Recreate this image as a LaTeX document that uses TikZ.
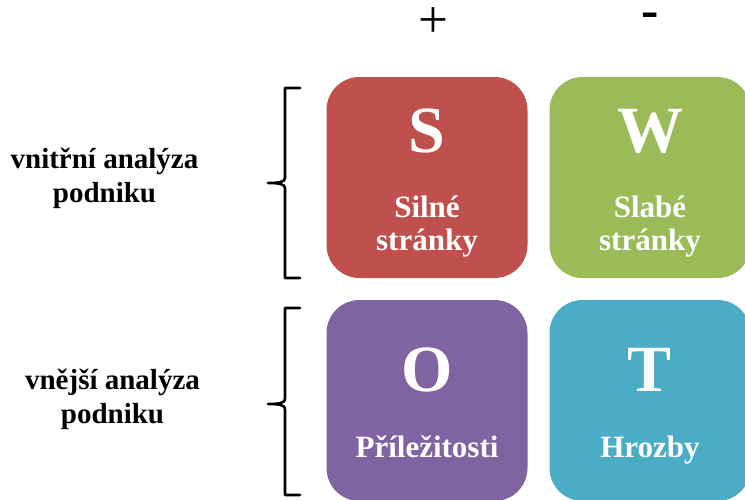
\documentclass[tikz,border=0pt]{standalone}
\usepackage{fontspec}
\setmainfont{Liberation Serif}
\definecolor{swotred}{RGB}{192,80,77}
\definecolor{swotgreen}{RGB}{155,187,89}
\definecolor{swotpurple}{RGB}{128,100,162}
\definecolor{swotblue}{RGB}{75,172,198}
\usepackage{tikz}
\tikzset{
  quadrant/.style={rectangle, rounded corners=33pt, fill=#1, draw=none,
                   minimum width=201pt, minimum height=201pt, inner sep=0pt},
  bigletter/.style={text=white, font=\fontsize{66}{70}\selectfont\bfseries, inner sep=0pt},
  quadlabel/.style={text=white, align=center, font=\fontsize{31}{33}\selectfont\bfseries, inner sep=0pt},
  sidelabel/.style={align=center, font=\fontsize{29}{34}\selectfont\bfseries, inner sep=0pt},
  sign/.style={inner sep=0pt, anchor=base, text height=0.55em, text depth=0pt},
  bracket/.style={line width=2.6pt, line cap=round, line join=round},
}
\begin{document}
\begin{tikzpicture}[x=1pt, y=-1pt]
  \useasboundingbox (0,0) rectangle (745,499);
  % signs above the columns
  \node[sign, font=\fontsize{53}{60}\selectfont] (plus) at (433,37.7) {+};
  \node[sign, font=\fontsize{52}{60}\selectfont\bfseries] (minus) at (649.7,27) {-};
  % quadrants (offsets: letter baseline / last label baseline)
  \foreach \n/\cx/\cy/\col/\ltr/\lbl/\dl/\db in {
      S/427/177.5/swotred/S/{Silné\\stránky}/-25/72.5,
      W/650/177.5/swotgreen/W/{Slabé\\stránky}/-25/72.5,
      O/427/400.5/swotpurple/O/{Příležitosti}/-9.5/56.5,
      T/650/400.5/swotblue/T/{Hrozby}/-9.5/56.5}{
    \node[quadrant=\col] (\n) at (\cx,\cy) {};
    \node[bigletter, anchor=base] (\n-letter) at (\cx,\cy+\dl) {\ltr};
    \node[quadlabel, anchor=base] (\n-label) at (\cx,\cy+\db) {\lbl};
  }
  % row labels
  \node[sidelabel, anchor=base] (inner) at (104.5,202.7) {vnitřní analýza\\podniku};
  \node[sidelabel, anchor=base] (outer) at (112.5,423) {vnější analýza\\podniku};
  % braces
  \foreach \top/\tip/\bot in {88/183/278, 308/404/495}{
    \draw[bracket] (300,\top) -- (285,\top) -- (285,\tip-5)
      .. controls (285,\tip-1) and (279,\tip) .. (268,\tip)
      .. controls (279,\tip) and (285,\tip+1) .. (285,\tip+5) -- (285,\bot) -- (300,\bot);
  }
\end{tikzpicture}
\end{document}
